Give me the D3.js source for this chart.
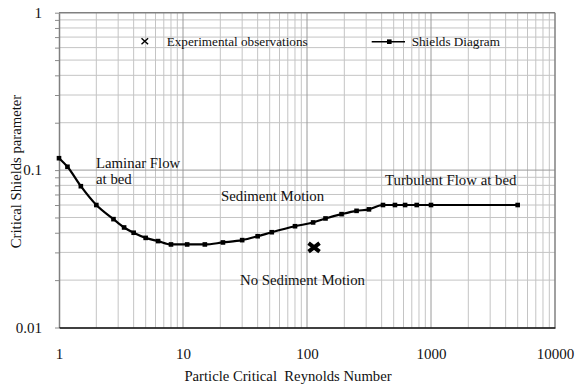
<!DOCTYPE html>
<html>
<head>
<meta charset="utf-8">
<script src="https://cdn.jsdelivr.net/npm/d3@7"></script>
<style>
  html, body { margin: 0; padding: 0; background: #fff; }
  svg { display: block; font-family: "Liberation Serif", "Times New Roman", serif; }
</style>
</head>
<body>
<svg id="chart" width="577" height="386"></svg>
<script>
// Shields diagram: critical Shields parameter vs particle Reynolds number
const shieldsRe = [1, 1.17, 1.5, 2, 2.75, 3.35, 4, 5, 6.3, 8, 10.8, 15, 21, 30, 40, 52, 80, 112, 141, 190, 251, 316, 410, 512, 618, 767, 1000, 5000];
const shieldsTheta = [0.119, 0.105, 0.079, 0.060, 0.0488, 0.0432, 0.040, 0.0371, 0.0354, 0.0337, 0.0337, 0.0337, 0.0347, 0.0359, 0.038, 0.0403, 0.044, 0.0465, 0.0493, 0.0525, 0.0551, 0.0563, 0.060, 0.060, 0.060, 0.060, 0.060, 0.060];

// Experimental observation
const obsRe = [114];
const obsTheta = [0.0323];

// Axis tick labels
const xTickLabels = ["1", "10", "100", "1000", "10000"];
const yTickLabels = ["0.01", "0.1", "1"];

const xDomain = [1, 10000];
const yDomain = [0.01, 1];

const svg = d3.select("#chart");
const plot = { left: 59, right: 555, top: 12.7, bottom: 327.5 };

const x = d3.scaleLog().domain(xDomain).range([plot.left, plot.right]);
const y = d3.scaleLog().domain(yDomain).range([plot.bottom, plot.top]);

const isMajor = v => Math.abs(Math.log10(v) - Math.round(Math.log10(v))) < 1e-9;
const xTicks = x.ticks();
const yTicks = y.ticks();

// Gridlines: minor first, major on top
const grid = svg.append("g");
grid.selectAll("line.vx").data(xTicks.filter(v => !isMajor(v))).join("line")
  .attr("x1", d => x(d)).attr("x2", d => x(d))
  .attr("y1", plot.top).attr("y2", plot.bottom)
  .attr("stroke", "#c4c4c4").attr("stroke-width", 1);
grid.selectAll("line.hy").data(yTicks.filter(v => !isMajor(v))).join("line")
  .attr("y1", d => y(d)).attr("y2", d => y(d))
  .attr("x1", plot.left).attr("x2", plot.right)
  .attr("stroke", "#c4c4c4").attr("stroke-width", 1);
grid.selectAll("line.mx").data(xTicks.filter(v => isMajor(v) && v > xDomain[0] && v < xDomain[1])).join("line")
  .attr("x1", d => x(d)).attr("x2", d => x(d))
  .attr("y1", plot.top).attr("y2", plot.bottom)
  .attr("stroke", "#9a9a9a").attr("stroke-width", 1);
grid.selectAll("line.my").data(yTicks.filter(v => isMajor(v) && v > yDomain[0] && v < yDomain[1])).join("line")
  .attr("y1", d => y(d)).attr("y2", d => y(d))
  .attr("x1", plot.left).attr("x2", plot.right)
  .attr("stroke", "#9a9a9a").attr("stroke-width", 1);

// Frame: top and right borders
svg.append("line").attr("x1", plot.left).attr("x2", plot.right)
  .attr("y1", plot.top).attr("y2", plot.top)
  .attr("stroke", "#808080").attr("stroke-width", 1.5);
svg.append("line").attr("x1", plot.right).attr("x2", plot.right)
  .attr("y1", plot.top).attr("y2", plot.bottom)
  .attr("stroke", "#808080").attr("stroke-width", 1.5);

// Left axis: ticks at every gridline, labels at decades
const yLabelMap = new Map(yTicks.filter(isMajor).map((v, i) => [v, yTickLabels[i]]));
const yAxis = svg.append("g").attr("transform", `translate(${plot.left},0)`)
  .call(d3.axisLeft(y).tickValues(yTicks).tickSizeInner(4).tickSizeOuter(0).tickPadding(13)
    .tickFormat(d => yLabelMap.get(d) || ""));
yAxis.select(".domain").attr("stroke", "#808080").attr("stroke-width", 1.5);
yAxis.selectAll(".tick line").attr("stroke", "#8c8c8c");
yAxis.selectAll("text").attr("font-size", 15).attr("font-family", "Liberation Serif").attr("fill", "#111");

// Bottom axis: labels at decades
const xLabelMap = new Map(xTicks.filter(isMajor).map((v, i) => [v, xTickLabels[i]]));
const xAxis = svg.append("g").attr("transform", `translate(0,${plot.bottom})`)
  .call(d3.axisBottom(x).tickValues(xTicks.filter(isMajor)).tickSize(0).tickSizeOuter(0)
    .tickFormat(d => xLabelMap.get(d) || ""));
xAxis.select(".domain").attr("stroke", "#000").attr("stroke-width", 1.6);
xAxis.selectAll("text").attr("dy", null).attr("y", 31.5)
  .attr("font-size", 15).attr("font-family", "Liberation Serif").attr("fill", "#111");

// Axis titles
svg.append("text")
  .attr("x", 288).attr("y", 381)
  .attr("text-anchor", "middle").attr("font-size", 14.7).attr("fill", "#111")
  .style("white-space", "pre")
  .text("Particle Critical  Reynolds Number");
svg.append("text")
  .attr("transform", "translate(20.5,171.5) rotate(-90)")
  .attr("text-anchor", "middle").attr("font-size", 14.7).attr("fill", "#111")
  .text("Critical Shields parameter");

// Shields curve
const pts = shieldsRe.map((r, i) => [r, shieldsTheta[i]]);
svg.append("path")
  .attr("d", d3.line().x(d => x(d[0])).y(d => y(d[1])).curve(d3.curveMonotoneX)(pts))
  .attr("fill", "none").attr("stroke", "#000").attr("stroke-width", 2.2);
const ms = 4.6;
svg.selectAll("rect.m").data(pts).join("rect")
  .attr("x", d => x(d[0]) - ms / 2).attr("y", d => y(d[1]) - ms / 2)
  .attr("width", ms).attr("height", ms).attr("fill", "#000");

// Experimental observation marker
const obs = obsRe.map((r, i) => [r, obsTheta[i]]);
svg.selectAll("path.obs").data(obs).join("path")
  .attr("transform", d => `translate(${x(d[0])},${y(d[1])})`)
  .attr("d", "M-5.5,-4.2L5.5,4.2M-5.5,4.2L5.5,-4.2")
  .attr("stroke", "#000").attr("stroke-width", 4).attr("fill", "none");

// Region annotations
const notes = [
  { t: "Laminar Flow", x: 96, y: 168.3 },
  { t: "at bed", x: 96, y: 183.5 },
  { t: "Sediment Motion", x: 221, y: 201 },
  { t: "No Sediment Motion", x: 240, y: 285.3 },
  { t: "Turbulent Flow at bed", x: 385, y: 185 }
];
svg.selectAll("text.note").data(notes).join("text")
  .attr("x", d => d.x).attr("y", d => d.y)
  .attr("font-size", 14.8).attr("fill", "#111")
  .text(d => d.t);

// Legend
const lg = svg.append("g");
lg.append("path").attr("transform", "translate(144.8,41.3)")
  .attr("d", "M-3.3,-3L3.3,3M-3.3,3L3.3,-3")
  .attr("stroke", "#000").attr("stroke-width", 1.4).attr("fill", "none");
lg.append("text").attr("x", 166.7).attr("y", 45.7).attr("font-size", 13.2).attr("fill", "#111")
  .text("Experimental observations");
lg.append("line").attr("x1", 371.7).attr("x2", 405).attr("y1", 41.7).attr("y2", 41.7)
  .attr("stroke", "#000").attr("stroke-width", 1.6);
lg.append("rect").attr("x", 389.3 - 2.3).attr("y", 41.7 - 2.3).attr("width", 4.6).attr("height", 4.6).attr("fill", "#000");
lg.append("text").attr("x", 411.7).attr("y", 45.7).attr("font-size", 13.2).attr("fill", "#111")
  .text("Shields Diagram");
</script>
</body>
</html>
